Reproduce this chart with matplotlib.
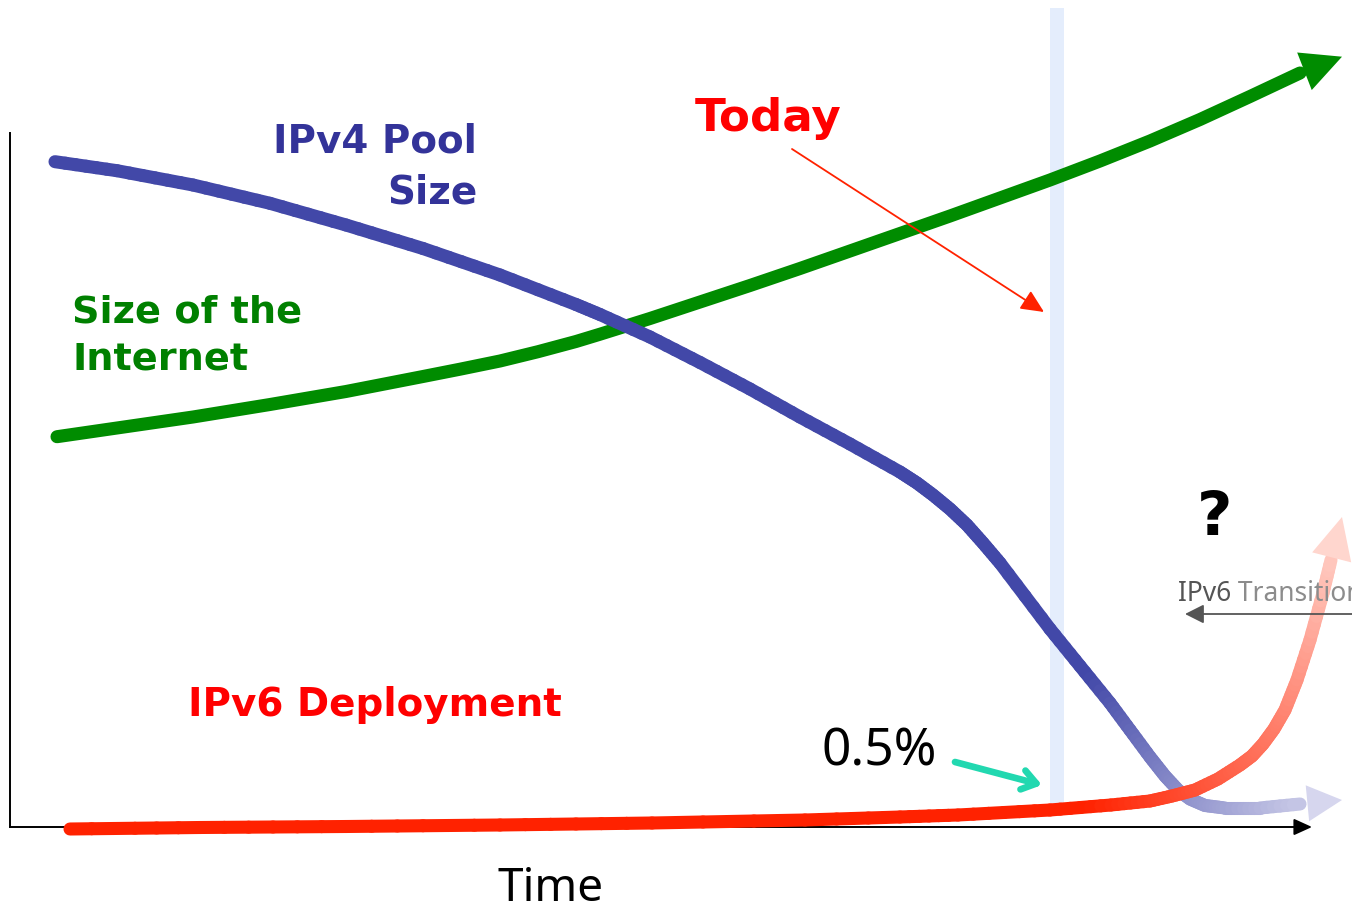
import matplotlib
matplotlib.use("Agg")
import matplotlib.pyplot as plt
import numpy as np
from matplotlib.collections import LineCollection
from matplotlib.colors import to_rgb

# arbitrary units: time 0..1302 along the axis, value 0..694 up the axis
ipv4_t = [45, 107, 183, 260, 336, 413, 490, 566, 590, 640, 690, 740, 790, 840,
          890, 907, 923, 940, 957, 973, 990, 1040, 1070, 1100, 1120, 1140, 1155,
          1168, 1180, 1195, 1215, 1250, 1290]
ipv4_v = [665.3, 656.3, 642, 623.7, 602, 578.5, 552, 522.5, 512.5, 490, 464.5,
          438, 410, 383, 355, 344, 332, 318, 302, 284, 264, 198, 161, 124, 97,
          70, 51, 37, 28, 21.5, 19, 19, 23]
ipv4_tip = (1332, 27)

net_t = [47, 107, 183, 260, 336, 413, 450, 490, 528, 566, 590, 640, 690, 740,
         790, 840, 890, 940, 990, 1040, 1090, 1140, 1190, 1240, 1290]
net_v = [390.3, 399, 410, 422.5, 435.5, 450.5, 457.8, 466, 475.3, 485.5, 492.8,
         508.5, 525, 541.5, 558.5, 576, 593.5, 611, 629, 647, 666, 686, 707.5,
         730.5, 754]
net_tip = (1332, 770.3)

ipv6_t = [60, 190, 336, 490, 642, 795, 890, 948, 1040, 1101, 1140, 1162, 1185,
          1208, 1230, 1242, 1253, 1264, 1275, 1287, 1300, 1313, 1321]
ipv6_v = [-2, -0.5, 0.5, 2, 4, 7, 10, 12, 17, 22, 26, 31, 37, 48, 62, 71, 83,
          98, 117, 147, 187, 234, 267]
ipv6_tip = (1332, 310)

today_t = 1047
today_lo, today_hi = 15, 819

fig = plt.figure(figsize=(13.52, 9.09), dpi=100)
ax = fig.add_axes([0, 0, 1, 1])
ax.set_xlim(-10, 1342)
ax.set_ylim(-82, 827)
ax.axis("off")

LW = 9.4


def fade_line(t, v, c0, c1, fade_from, z):
    # colour each straight piece, fading after fade_from along the path
    pts = ax.transData.transform(np.column_stack([t, v]))
    seg_len = np.hypot(*np.diff(pts, axis=0).T)
    dist = np.concatenate([[0], np.cumsum(seg_len)])
    d0 = np.interp(fade_from, t, dist)
    total = dist[-1] + 45
    c0, c1 = np.array(to_rgb(c0)), np.array(to_rgb(c1))
    segs, cols = [], []
    for i in range(len(t) - 1):
        for k in range(6):
            a, b = k / 6, (k + 1) / 6
            p = (t[i] + (t[i+1]-t[i]) * a, v[i] + (v[i+1]-v[i]) * a)
            q = (t[i] + (t[i+1]-t[i]) * b, v[i] + (v[i+1]-v[i]) * b)
            d = dist[i] + seg_len[i] * (a + b) / 2
            f = np.clip((d - d0) / (total - d0), 0, 1)
            segs.append([p, q])
            cols.append(c0 + (c1 - c0) * f)
    lc = LineCollection(segs, colors=cols, linewidths=LW, capstyle="round",
                        joinstyle="round", zorder=z)
    ax.add_collection(lc)


def head(start, tip, color, hl, hw, z, lw=0, style="-|>"):
    ax.annotate("", xy=tip, xytext=start,
                arrowprops=dict(arrowstyle=f"{style},head_length={hl},head_width={hw}",
                                mutation_scale=1, color=color, lw=lw,
                                shrinkA=0, shrinkB=0, capstyle="round"),
                zorder=z)


# today band
ax.bar(today_t, today_hi - today_lo, bottom=today_lo, width=14,
       color="#E4EDFC", zorder=1)

# axes
ax.plot([0, 0], [0, 694], color="black", lw=1.4, zorder=2)
head((0, 0), (1302, 0), "black", 11, 5, 2, lw=1.4)

# curves
ax.plot(net_t, net_v, color="#008C00", lw=LW, solid_capstyle="round",
        solid_joinstyle="round", zorder=3)
head((net_t[-1], net_v[-1]), net_tip, "#008C00", 29, 14.5, 3)

fade_line(ipv4_t, ipv4_v, "#4248A8", "#DCDCF0", 1080, 4)
head((ipv4_t[-1], ipv4_v[-1]), ipv4_tip, "#D6D6EE", 25, 13, 4)

fade_line(ipv6_t, ipv6_v, "#FF2200", "#FFDAD3", 1080, 5)
head((ipv6_t[-1], ipv6_v[-1]), ipv6_tip, "#FFD6CE", 30, 14.5, 5)

# annotation arrows
head((782, 678), (1034, 515), "#FF2200", 14, 6.5, 6, lw=1.3)
head((945, 65), (1032, 42), "#22D8B0", 10, 7, 6, lw=4.8, style="->")
head((1345, 213), (1175, 213), "#555555", 11.5, 5.8, 6, lw=1.3)

# labels
bold = dict(fontfamily="DejaVu Sans", fontweight="bold", zorder=7)
ax.text(467, 624, "IPv4 Pool\nSize", color="#333399", fontsize=28,
        ha="right", va="baseline", multialignment="right", linespacing=1.42, **bold)
ax.text(62, 457, "Size of the\nInternet", color="#008000", fontsize=27.5,
        ha="left", va="baseline", linespacing=1.42, **bold)
ax.text(685, 696, "Today", color="#FF0000", fontsize=32.5, va="baseline", **bold)
ax.text(178, 111, "IPv6 Deployment", color="#FF0000", fontsize=28,
        va="baseline", **bold)
ax.text(1187, 292, "?", color="black", fontsize=44, va="baseline", **bold)

ax.text(812, 62, "0.5%", fontfamily="Noto Sans", fontsize=37, color="black",
        va="baseline", zorder=7)
ax.text(487, -74, "Time", fontfamily="Noto Sans", fontsize=33, color="black",
        va="baseline", zorder=7)

t1 = ax.text(1168, 226, "IPv6", fontfamily="Noto Sans", fontsize=19,
             color="#555555", va="baseline", zorder=7)
ax.annotate(" Transition", xy=(1, 0), xycoords=t1, fontfamily="Noto Sans",
            fontsize=19, color="#8C8C8C", va="bottom", ha="left", zorder=7)

fig.savefig("out.png", dpi=100)
